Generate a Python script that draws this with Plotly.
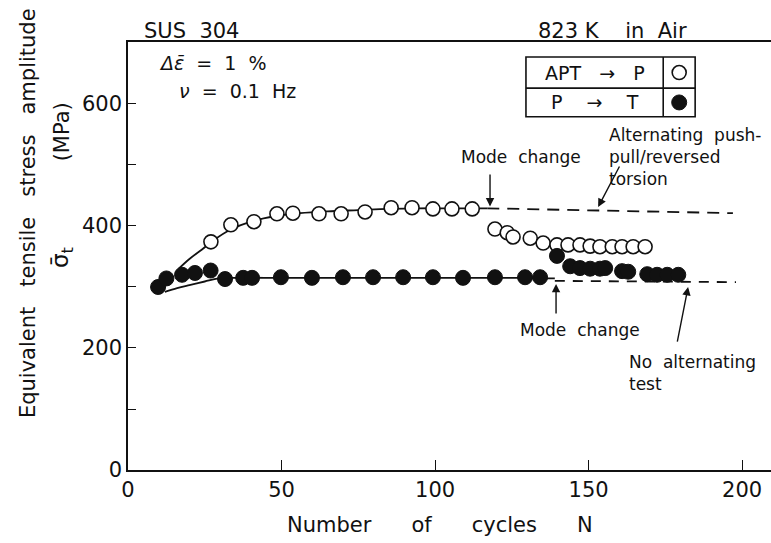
import plotly.graph_objects as go

# ---- measured data -------------------------------------------------------
# APT -> P (open circles), before the mode change
apt_n = [27, 33.5, 41, 48.5, 53.7, 62.2, 69.4, 77.2, 85.7, 92.5, 99.3, 105.5, 112.1]
apt_s = [374, 402, 407, 420, 421, 420, 420, 423, 430, 430, 428, 428, 428]
# APT -> P after the mode change
apt2_n = [119.5, 123.5, 125.4, 131.0, 135.2, 139.7, 143.3, 147.2, 150.5, 153.7, 157.7, 160.9, 164.5, 168.4]
apt2_s = [395, 389, 382, 380, 372, 369, 369, 369, 367, 366, 366, 366, 366, 366]

# P -> T (filled circles), before the mode change
pt_n = [9.8, 12.5, 17.6, 21.8, 26.9, 31.6, 37.5, 40.4, 49.8, 59.9, 70.0, 79.8, 89.6, 99.3, 109.1, 119.5, 129.3, 134.2]
pt_s = [300, 314, 320, 323, 327, 313, 315, 315, 316, 315, 316, 316, 316, 316, 315, 316, 316, 316]
# P -> T after the mode change
pt2_n = [139.7, 144.0, 147.2, 150.5, 153.7, 155.4, 160.9, 162.9, 169.1, 172.3, 175.6, 179.2]
pt2_s = [351, 334, 331, 330, 330, 331, 326, 325, 321, 320, 320, 320]

# hand-faired trend curves
apt_fit_n = [16.5, 20, 24, 28, 33, 40, 48, 56, 65, 75, 85, 95, 105, 117]
apt_fit_s = [330, 346, 361, 377, 393, 407, 416, 421, 424, 426, 428, 429, 429, 429]
pt_fit_n = [12, 16, 20, 25, 29.5, 35, 50, 70, 90, 110, 130, 139]
pt_fit_s = [292, 298, 303, 309, 314, 315, 315, 315, 315, 315, 315, 314]

# alternating push-pull / reversed torsion reference levels (dashed)
alt_n = [117, 197]
alt_s = [429, 421]
noalt_n = [139, 198]
noalt_s = [310, 308]

x_ticks = [0, 50, 100, 150, 200]
y_ticks = [0, 100, 200, 300, 400, 500, 600]
y_tick_text = ["0", "", "200", "", "400", "", "600"]

# ---- styling -------------------------------------------------------------
FONT = "DejaVu Sans"
INK = "#111111"
X_RANGE = [0, 209.4]
Y_RANGE = [0, 701.6]

fig = go.Figure()

line_style = dict(color=INK, width=1.8)
fig.add_trace(go.Scatter(x=apt_fit_n, y=apt_fit_s, mode="lines",
                         line=dict(shape="spline", **line_style), hoverinfo="skip"))
fig.add_trace(go.Scatter(x=pt_fit_n, y=pt_fit_s, mode="lines",
                         line=dict(shape="spline", **line_style), hoverinfo="skip"))
fig.add_trace(go.Scatter(x=alt_n, y=alt_s, mode="lines",
                         line=dict(color=INK, width=1.8, dash="12px,8px"), hoverinfo="skip"))
fig.add_trace(go.Scatter(x=noalt_n, y=noalt_s, mode="lines",
                         line=dict(color=INK, width=1.8, dash="10px,8px"), hoverinfo="skip"))

open_marker = dict(symbol="circle", size=14, color="white", line=dict(color=INK, width=1.6))
fill_marker = dict(symbol="circle", size=15, color=INK, line=dict(color=INK, width=1))

fig.add_trace(go.Scatter(x=apt_n, y=apt_s, mode="markers", marker=open_marker, name="APT → P"))
fig.add_trace(go.Scatter(x=apt2_n, y=apt2_s, mode="markers", marker=open_marker, showlegend=False))
fig.add_trace(go.Scatter(x=pt_n, y=pt_s, mode="markers", marker=fill_marker, name="P → T"))
fig.add_trace(go.Scatter(x=pt2_n, y=pt2_s, mode="markers", marker=fill_marker, showlegend=False))

# symbol key drawn as a small table
key_x0, key_x1, key_xd = 129.6, 184.7, 174.3
key_y0, key_y1, key_ym = 579, 677, 626
fig.add_shape(type="rect", x0=key_x0, x1=key_x1, y0=key_y0, y1=key_y1,
              line=dict(color=INK, width=1.6), fillcolor="white", layer="below")
fig.add_shape(type="line", x0=key_x0, x1=key_x1, y0=key_ym, y1=key_ym,
              line=dict(color=INK, width=1.6))
fig.add_shape(type="line", x0=key_xd, x1=key_xd, y0=key_y0, y1=key_y1,
              line=dict(color=INK, width=1.6))
key_sym_x = (key_xd + key_x1) / 2
fig.add_trace(go.Scatter(x=[key_sym_x], y=[(key_ym + key_y1) / 2], mode="markers",
                         marker=open_marker, hoverinfo="skip"))
fig.add_trace(go.Scatter(x=[key_sym_x], y=[(key_y0 + key_ym) / 2], mode="markers",
                         marker=fill_marker, hoverinfo="skip"))


def label(text, x, y, size=17, xanchor="center", yanchor="middle", angle=0, align="left"):
    """Place text at axis-unit coordinates (paper-referenced so it may sit outside the axes)."""
    fig.add_annotation(text=text, x=x / X_RANGE[1], y=y / Y_RANGE[1],
                       xref="paper", yref="paper", showarrow=False,
                       xanchor=xanchor, yanchor=yanchor, textangle=angle, align=align,
                       font=dict(family=FONT, size=size, color=INK))


def arrow(x_tail, y_tail, x_head, y_head):
    fig.add_annotation(x=x_head, y=y_head, ax=x_tail, ay=y_tail, xref="x", yref="y",
                       axref="x", ayref="y", text="", showarrow=True, arrowhead=2,
                       arrowsize=1.2, arrowwidth=1.4, arrowcolor=INK)


key_txt_x = (key_x0 + key_xd) / 2
label("APT   \u2192   P", key_txt_x, (key_ym + key_y1) / 2, size=19)
label("P    \u2192    T", key_txt_x, (key_y0 + key_ym) / 2, size=19)

# headings
label("SUS  304", 4.6, 719, size=21, xanchor="left")
label("823 K    in  Air", 133, 719, size=21, xanchor="left")
label("<i>\u0394\u03b5\u0304</i>  =  1  %", 9.4, 667, size=19, xanchor="left")
label("<i>\u03bd</i>  =  0.1  Hz", 16, 622, size=19, xanchor="left")

# callouts
label("Mode  change", 128, 513, size=17)
arrow(117.9, 487, 117.9, 432)
label("Alternating  push-<br>pull/reversed<br>torsion", 156, 513, size=17, xanchor="left")
arrow(160.3, 500, 153.1, 431)
label("Mode  change", 147.2, 230, size=17)
arrow(139.4, 254, 139.4, 305)
label("No  alternating<br>test", 162.5, 159, size=17, xanchor="left")
arrow(178.8, 208, 182.4, 300)

# axis titles
label("Number      of      cycles      N", 101.5, -90, size=21)
label("Equivalent   tensile   stress   amplitude", -32.6, 421, size=21, angle=-90)
label("(MPa)", -21.2, 555, size=21, angle=-90)
label("\u03c3\u0304<sub>t</sub>", -21.5, 349, size=23, angle=-90)

fig.update_layout(
    width=771, height=543, autosize=False,
    margin=dict(l=128, r=0, t=42, b=73),
    paper_bgcolor="white", plot_bgcolor="white",
    showlegend=False,
    font=dict(family=FONT, size=21, color=INK),
    xaxis=dict(range=X_RANGE, tickvals=x_ticks, ticks="inside", ticklen=10,
               tickwidth=1.4, tickcolor=INK, showline=True, linecolor=INK,
               linewidth=1.6, mirror=True, showgrid=False, zeroline=False,
               tickfont=dict(family=FONT, size=21, color=INK)),
    yaxis=dict(range=Y_RANGE, tickvals=y_ticks, ticktext=y_tick_text, ticks="inside",
               ticklen=8, tickwidth=1.4, tickcolor=INK, showline=True, linecolor=INK,
               linewidth=1.6, showgrid=False, zeroline=False,
               tickfont=dict(family=FONT, size=21, color=INK)),
)

fig.write_html("out.html")
